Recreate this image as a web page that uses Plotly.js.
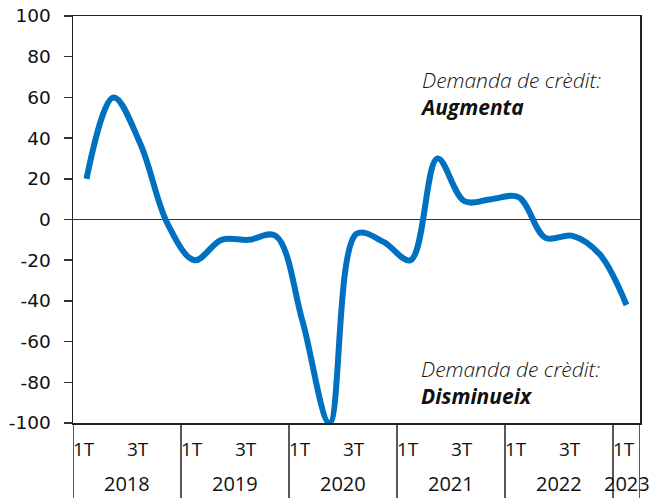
<!DOCTYPE html>
<html>
<head>
<meta charset="utf-8">
<script src="https://cdn.plot.ly/plotly-3.0.1.min.js"></script>
<style>html,body{margin:0;padding:0;background:#fff;}#chart{width:650px;height:498px;}</style>
</head>
<body>
<div id="chart"></div>
<script>
var years = ["2018","2019","2020","2021","2022","2023"];
var quarters = ["1T","2T","3T","4T"];
var shownQuarters = ["1T","3T"];
var values = [20, 60, 37, -2, -20, -10, -10, -8, -50, -100, -7, -11, -20, 30, 9, 10, 11, -9, -8, -17, -42];
var yTicks = [100, 80, 60, 40, 20, 0, -20, -40, -60, -80, -100];

var xs = values.map(function(v, i){ return i; });
var font = "Open Sans, sans-serif";

var annotations = [];
var shapes = [];
xs.forEach(function(i){
  var q = quarters[i % 4];
  if (shownQuarters.indexOf(q) >= 0) {
    annotations.push({x: i, xref: 'x', y: -0.064, yref: 'paper', text: q, showarrow: false, xshift: -3,
      xanchor: 'center', yanchor: 'middle', font: {family: font, size: 19, color: '#111'}});
  }
  if (i % 4 === 0) {
    shapes.push({type: 'line', xref: 'x', yref: 'paper', x0: i - 0.5, x1: i - 0.5, y0: 0, y1: -0.19,
      line: {color: '#222', width: 1.5}});
  }
});
years.forEach(function(y, k){
  var start = k * 4, end = Math.min(k * 4 + 3, values.length - 1);
  annotations.push({x: (start + end) / 2, xref: 'x', y: -0.148, yref: 'paper', text: y, showarrow: false,
    xanchor: 'center', yanchor: 'middle', font: {family: font, size: 20, color: '#111'}});
});
shapes.push({type: 'line', xref: 'x', yref: 'paper', x0: values.length - 0.5, x1: values.length - 0.5, y0: 0, y1: -0.19,
  line: {color: '#222', width: 1.5}});

var tx = (422 - 73) / 567;
annotations.push({x: tx, xref: 'paper', y: 61.8, yref: 'y', xshift: -4,
  text: '<i>Demanda de crèdit:</i><br><b><i>Augmenta</i></b>', showarrow: false, align: 'left',
  xanchor: 'left', yanchor: 'middle', font: {family: font, size: 21, color: '#111', weight: 300}});
annotations.push({x: tx, xref: 'paper', y: -79.9, yref: 'y', xshift: -3,
  text: '<i>Demanda de crèdit:</i><br><b><i>Disminueix</i></b>', showarrow: false, align: 'left',
  xanchor: 'left', yanchor: 'middle', font: {family: font, size: 21, color: '#111', weight: 300}});

var trace = {
  x: xs, y: values, type: 'scatter', mode: 'lines',
  line: {color: '#0070C0', width: 6, shape: 'spline', smoothing: 1},
  hoverinfo: 'skip'
};

var layout = {
  width: 650, height: 498,
  margin: {l: 73, r: 10, t: 16, b: 75},
  paper_bgcolor: '#fff', plot_bgcolor: '#fff',
  showlegend: false,
  xaxis: {range: [-0.5, values.length - 0.5], showgrid: false, zeroline: false,
    showline: true, mirror: true, linecolor: '#222', linewidth: 1.5,
    showticklabels: false, ticks: ''},
  yaxis: {range: [-100, 100], showgrid: false, zeroline: true, zerolinecolor: '#333', zerolinewidth: 1.5,
    showline: true, mirror: true, linecolor: '#222', linewidth: 1.5,
    ticks: 'outside', ticklen: 8, tickwidth: 1.5, tickcolor: '#333', ticklabelstandoff: 9,
    tickvals: yTicks, ticktext: yTicks.map(function(v){ return String(v); }),
    tickfont: {family: 'DejaVu Sans, sans-serif', size: 18.5, color: '#111'}},
  annotations: annotations,
  shapes: shapes
};

Plotly.newPlot('chart', [trace], layout, {displayModeBar: false, staticPlot: true});
</script>
</body>
</html>
